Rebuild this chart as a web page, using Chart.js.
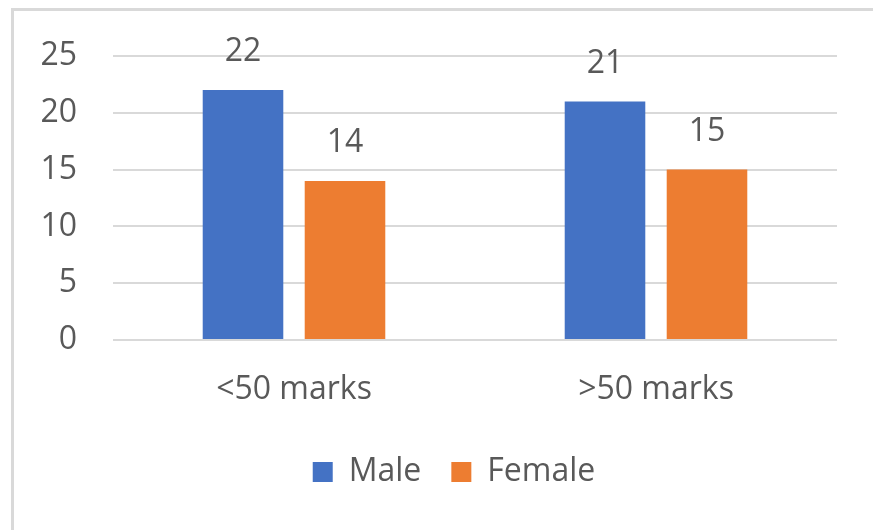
<!DOCTYPE html>
<html>
<head>
<meta charset="utf-8">
<script src="https://cdn.jsdelivr.net/npm/chart.js@4.4.0/dist/chart.umd.min.js"></script>
<style>
  html, body { margin: 0; padding: 0; background: #ffffff; overflow: hidden; }
  #frame {
    position: absolute; left: 11px; top: 8px;
    width: 1000px; height: 700px;
    border: 3px solid #d9d9d9; box-sizing: border-box;
  }
  #wrap { position: absolute; left: 0; top: 0; width: 908px; height: 530px; }
</style>
</head>
<body>
<div id="frame"></div>
<div id="wrap"><canvas id="c" width="908" height="530"></canvas></div>
<script>
// Marks split by gender
const categories = ['<50 marks', '>50 marks'];
const maleValues = [22, 21];
const femaleValues = [14, 15];
const seriesNames = ['Male', 'Female'];
const yMin = 0, yMax = 25, yStep = 5;

const TEXT = '#595959';
const FONT = '"Open Sans", "Noto Sans", sans-serif';

// Value printed above each bar
const valueLabels = {
  id: 'valueLabels',
  afterDatasetsDraw(chart) {
    const ctx = chart.ctx;
    ctx.save();
    ctx.font = '32px ' + FONT;
    ctx.fillStyle = TEXT;
    ctx.textAlign = 'center';
    ctx.textBaseline = 'middle';
    chart.data.datasets.forEach((ds, i) => {
      chart.getDatasetMeta(i).data.forEach((bar, j) => {
        ctx.fillText(String(ds.data[j]), bar.x, bar.y - 38);
      });
    });
    ctx.restore();
  }
};

new Chart(document.getElementById('c'), {
  type: 'bar',
  data: {
    labels: categories,
    datasets: [
      { label: seriesNames[0], data: maleValues, backgroundColor: '#4472c4', borderWidth: 0 },
      { label: seriesNames[1], data: femaleValues, backgroundColor: '#ed7d31', borderWidth: 0 }
    ]
  },
  options: {
    responsive: false,
    animation: false,
    devicePixelRatio: 1,
    categoryPercentage: 0.5635,
    barPercentage: 0.79,
    layout: { padding: { left: 0, right: 0, top: 56, bottom: 32 } },
    plugins: {
      tooltip: { enabled: false },
      legend: {
        position: 'bottom',
        labels: {
          boxWidth: 20, boxHeight: 20, padding: 30,
          color: TEXT,
          font: { family: FONT, size: 32 }
        }
      }
    },
    scales: {
      x: {
        grid: { display: false },
        border: { display: false },
        ticks: { color: TEXT, padding: 23, font: { family: FONT, size: 32 } },
        afterFit(s) { s.height = 86; }
      },
      y: {
        min: yMin, max: yMax,
        grid: { color: '#d9d9d9', lineWidth: 2, drawTicks: false },
        border: { display: false },
        ticks: { stepSize: yStep, color: TEXT, padding: 36, font: { family: FONT, size: 32 } },
        afterFit(s) { s.width = 113; }
      },
      // empty right-hand margin of the plot
      yRight: {
        position: 'right',
        grid: { display: false },
        border: { display: false },
        ticks: { display: false },
        afterFit(s) { s.width = 71; }
      }
    }
  },
  plugins: [valueLabels]
});
</script>
</body>
</html>
